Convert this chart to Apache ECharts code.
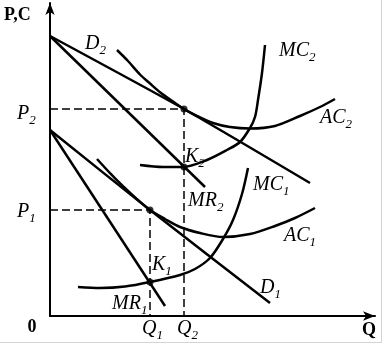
<!DOCTYPE html>
<html>
<head>
<meta charset="utf-8">
<script src="https://cdn.jsdelivr.net/npm/echarts@6/dist/echarts.min.js"></script>
<style>
html,body{margin:0;padding:0;background:#fff;}
#chart{width:384px;height:346px;}
</style>
</head>
<body>
<div id="chart"></div>
<script>
// ---- Data (abstract units: quantity Q on x, price/cost P,C on y) ----
const d2  = [[0,280],[134,207],[260,133]];
const mr2 = [[0,280],[155,129]];
const ac2 = [[67,266],[78,255],[90,241.5],[100,232.5],[110,223.8],[122,215.2],[134,207],[146,200.5],[163,193],[180,189],[200,187.5],[225,190],[250,200],[270,209],[285,217]];
const mc2 = [[90,151],[113,149],[133,149],[157,156],[177,166],[190,174],[200,188],[205,199],[208,216],[212,243],[215,271]];

const d1  = [[0,186],[100,106],[220,13]];
const mr1 = [[0,186],[115,10]];
const ac1 = [[47,157],[60,142.9],[73,129.8],[87,116.9],[100,106],[115,97],[130,89],[150,83],[173,79],[200,82],[225,90],[245,98],[265,108]];
const mc1 = [[28,29],[50,28],[75,29.5],[100,34],[130,41],[145,47],[160,58],[173,77],[183,96],[192,122],[198,148]];

// equilibrium points (Q, P) and MR=MC points
const eq2 = [134,207];
const k2  = [134,149];
const eq1 = [100,106];
const k1  = [100,34];

// labels: [main, subscript, x, y, kind]
const labels = [
  ['P,C','', -46, 301, 'axis'],
  ['D','2', 35, 272, 'it'],
  ['MC','2', 229, 265, 'it'],
  ['AC','2', 270, 198, 'it'],
  ['P','2', -33, 202, 'it'],
  ['K','2', 135, 159, 'it'],
  ['MR','2', 138, 115, 'it'],
  ['MC','1', 203, 131, 'it'],
  ['AC','1', 234, 80, 'it'],
  ['P','1', -33, 104, 'it'],
  ['K','1', 102, 51, 'it'],
  ['D','1', 210, 28, 'it'],
  ['MR','1', 62, 12, 'it'],
  ['Q','1', 92, -13, 'it'],
  ['Q','2', 127, -13, 'it'],
  ['0','', -18, -11, 'axisc'],
  ['Q','', 319, -14, 'axisc']
];

const chart = echarts.init(document.getElementById('chart'), null, {renderer:'canvas'});

function curve(data, smooth){
  return {type:'line', data:data, smooth:smooth, showSymbol:false, symbol:'none',
    lineStyle:{color:'#000', width:2.5}, silent:true, z:3};
}
function dashed(pt){
  return {type:'line', data:[[0,pt[1]],pt,[pt[0],0]], showSymbol:false, symbol:'none',
    lineStyle:{color:'#000', width:1.5, type:[8,4]}, silent:true, z:2};
}

const option = {
  animation:false,
  backgroundColor:'#fff',
  grid:{left:50, right:9, top:3, bottom:30},
  xAxis:{type:'value', min:0, max:325,
    axisLine:{show:true, onZero:false, symbol:['none','arrow'], symbolSize:[7,12], lineStyle:{color:'#000', width:2}},
    axisTick:{show:false}, axisLabel:{show:false}, splitLine:{show:false}},
  yAxis:{type:'value', min:0, max:313,
    axisLine:{show:true, onZero:false, symbol:['none','arrow'], symbolSize:[7,12], lineStyle:{color:'#000', width:2}},
    axisTick:{show:false}, axisLabel:{show:false}, splitLine:{show:false}},
  series:[
    dashed(eq2), dashed(eq1),
    curve(d2,0.2), curve(mr2,false), curve(ac2,0.3), curve(mc2,0.3),
    curve(d1,0.2), curve(mr1,false), curve(ac1,0.3), curve(mc1,0.3),
    {type:'scatter', data:[eq2,k2,eq1,k1], symbol:'circle', symbolSize:7,
      itemStyle:{color:'#000'}, silent:true, z:5}
  ]
};
chart.setOption(option);

const rich = {
  m:{fontFamily:'Liberation Serif', fontStyle:'italic', fontSize:20, lineHeight:26, verticalAlign:'middle', color:'#000'},
  s:{fontFamily:'Liberation Serif', fontStyle:'italic', fontSize:13, verticalAlign:'bottom', color:'#000'},
  a:{fontFamily:'Liberation Serif', fontWeight:'bold', fontSize:18, lineHeight:26, color:'#000'}
};
const g = labels.map(function(l){
  const p = chart.convertToPixel({gridIndex:0}, [l[2], l[3]]);
  let txt;
  if (l[4]==='it') txt = '{m|'+l[0]+'}' + (l[1] ? '{s|'+l[1]+'}' : '');
  else txt = '{a|'+l[0]+'}';
  const center = l[4]==='axisc';
  return {type:'text', x:p[0], y:p[1], silent:true, z:10,
    style:{text:txt, rich:rich, align:center?'center':'left', verticalAlign:'middle',
      textAlign:center?'center':'left', textVerticalAlign:'middle'}};
});
g.push({type:'line', shape:{x1:381.5,y1:0,x2:381.5,y2:343}, style:{stroke:'#d4d4d4', lineWidth:1}, silent:true});
g.push({type:'line', shape:{x1:0,y1:342.5,x2:382,y2:342.5}, style:{stroke:'#d4d4d4', lineWidth:1}, silent:true});
chart.setOption({graphic:g});
</script>
</body>
</html>
